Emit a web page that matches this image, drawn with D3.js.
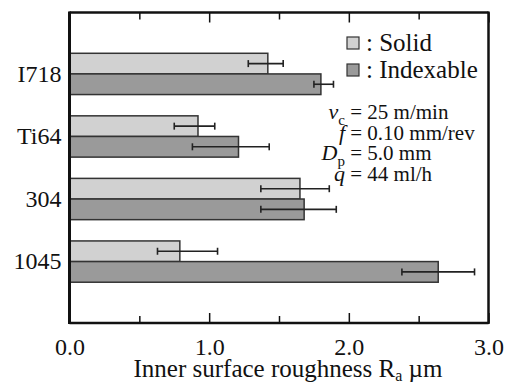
<!DOCTYPE html>
<html><head><meta charset="utf-8">
<script src="https://cdn.jsdelivr.net/npm/d3@7"></script>
<style>body{margin:0;background:#fff}svg{display:block}</style>
</head><body><svg id="c" width="509" height="384"></svg>
<script>
const categories = ["I718", "Ti64", "304", "1045"];
const seriesNames = ["Solid", "Indexable"];
const solid = [1.42, 0.92, 1.65, 0.79];
const solidLo = [1.28, 0.75, 1.37, 0.63];
const solidHi = [1.53, 1.04, 1.86, 1.06];
const indexable = [1.80, 1.21, 1.68, 2.64];
const indexLo = [1.75, 0.88, 1.37, 2.38];
const indexHi = [1.89, 1.43, 1.91, 2.90];
const majorTicks = [0, 1, 2, 3];
const minorTicks = [0.5, 1.5, 2.5];
const tickLabels = ["0.0", "1.0", "2.0", "3.0"];
const params = [["v", "c", "= 25 m/min"], ["f", "", "= 0.10 mm/rev"], ["D", "p", "= 5.0 mm"], ["q", "", "= 44 ml/h"]];

const FONT = "Liberation Serif";
const colors = {Solid: "#d1d1d1", Indexable: "#9a9a9a"};
const svg = d3.select("#c");
const L = 69.5, R = 488.5, T = 12.5, B = 323;
const x = d3.scaleLinear().domain([0, 3]).range([L, R]);
const y = d3.scaleBand().domain(categories).range([T, B]).paddingInner(0.34).paddingOuter(0.652);
const ys = d3.scaleBand().domain(seriesNames).range([0, y.bandwidth()]);

const rows = [];
categories.forEach((c, i) => {
  rows.push({c, s: "Solid", v: solid[i], lo: solidLo[i], hi: solidHi[i]});
  rows.push({c, s: "Indexable", v: indexable[i], lo: indexLo[i], hi: indexHi[i]});
});

svg.append("g").selectAll("rect").data(rows).join("rect")
  .attr("x", x(0)).attr("y", d => y(d.c) + ys(d.s))
  .attr("width", d => x(d.v) - x(0)).attr("height", ys.bandwidth())
  .attr("fill", d => colors[d.s]).attr("stroke", "#333").attr("stroke-width", 1.5);

const eb = svg.append("g").attr("stroke", "#222").attr("stroke-width", 1.6);
rows.forEach(d => {
  const cy = y(d.c) + ys(d.s) + ys.bandwidth() / 2;
  eb.append("line").attr("x1", x(d.lo)).attr("x2", x(d.hi)).attr("y1", cy).attr("y2", cy);
  eb.append("line").attr("x1", x(d.lo)).attr("x2", x(d.lo)).attr("y1", cy - 3.5).attr("y2", cy + 3.5);
  eb.append("line").attr("x1", x(d.hi)).attr("x2", x(d.hi)).attr("y1", cy - 3.5).attr("y2", cy + 3.5);
});

const gB = svg.append("g").attr("transform", `translate(0,${B})`)
  .call(d3.axisBottom(x).tickValues(majorTicks).tickSize(-10).tickPadding(15).tickFormat((d, i) => tickLabels[i]));
const gBm = svg.append("g").attr("transform", `translate(0,${B})`)
  .call(d3.axisBottom(x).tickValues(minorTicks).tickSize(-7).tickFormat(""));
const gT = svg.append("g").attr("transform", `translate(0,${T})`)
  .call(d3.axisTop(x).tickValues(majorTicks).tickSize(-10).tickFormat(""));
const gTm = svg.append("g").attr("transform", `translate(0,${T})`)
  .call(d3.axisTop(x).tickValues(minorTicks).tickSize(-7).tickFormat(""));
[gB, gBm, gT, gTm].forEach(g => {
  g.attr("font-family", FONT);
  g.select(".domain").remove();
  g.selectAll(".tick line").attr("stroke", "#111").attr("stroke-width", 1.5);
});
gB.selectAll(".tick text").attr("font-size", 24).attr("font-family", FONT).attr("fill", "#111");

const gL = svg.append("g").attr("transform", `translate(${L},0)`)
  .call(d3.axisLeft(y).tickSize(0).tickPadding(8));
gL.attr("font-family", FONT);
gL.select(".domain").remove();
gL.selectAll(".tick text").attr("font-size", 24).attr("font-family", FONT).attr("fill", "#111");

svg.append("line").attr("x1", L).attr("x2", L).attr("y1", T - 1).attr("y2", B + 1).attr("stroke", "#111").attr("stroke-width", 3);
svg.append("line").attr("x1", R).attr("x2", R).attr("y1", T - 1).attr("y2", B + 1).attr("stroke", "#111").attr("stroke-width", 2.5);
svg.append("line").attr("x1", L).attr("x2", R).attr("y1", T).attr("y2", T).attr("stroke", "#111").attr("stroke-width", 2.5);
svg.append("line").attr("x1", L).attr("x2", R).attr("y1", B).attr("y2", B).attr("stroke", "#111").attr("stroke-width", 2.5);

const t = svg.append("text").attr("x", (129 + 447) / 2).attr("y", 377).attr("text-anchor", "middle")
  .attr("font-size", 25).attr("font-family", FONT).attr("fill", "#111");
t.append("tspan").text("Inner surface roughness R");
t.append("tspan").attr("font-size", 16).attr("dy", 4).text("a");
t.append("tspan").attr("dy", -4).text(" \u00b5m");

seriesNames.forEach((s, i) => {
  const ly = 37 + i * 27;
  svg.append("rect").attr("x", 347).attr("y", ly).attr("width", 12).attr("height", 12)
    .attr("fill", colors[s]).attr("stroke", "#333").attr("stroke-width", 1.2);
  svg.append("text").attr("x", 366).attr("y", ly + 13.5).attr("font-size", 25)
    .attr("font-family", FONT).attr("fill", "#111").text(": " + s);
});

function addVar(txt, p) {
  txt.append("tspan").attr("font-style", "italic").attr("font-size", 22).text(p[0]);
  if (p[1]) txt.append("tspan").attr("font-size", 15).attr("dy", 6).text(p[1]);
}
params.forEach((p, i) => {
  const by = 119 + i * 20.7;
  const tmp = svg.append("text").attr("font-family", FONT).attr("font-size", 21);
  addVar(tmp, p);
  const w = tmp.node().getComputedTextLength();
  tmp.remove();
  const txt = svg.append("text").attr("x", 345 - w).attr("y", by)
    .attr("font-size", 21).attr("font-family", FONT).attr("fill", "#111");
  addVar(txt, p);
  txt.append("tspan").attr("x", 345).attr("y", by).text("\u00a0" + p[2]);
});
</script></body></html>
